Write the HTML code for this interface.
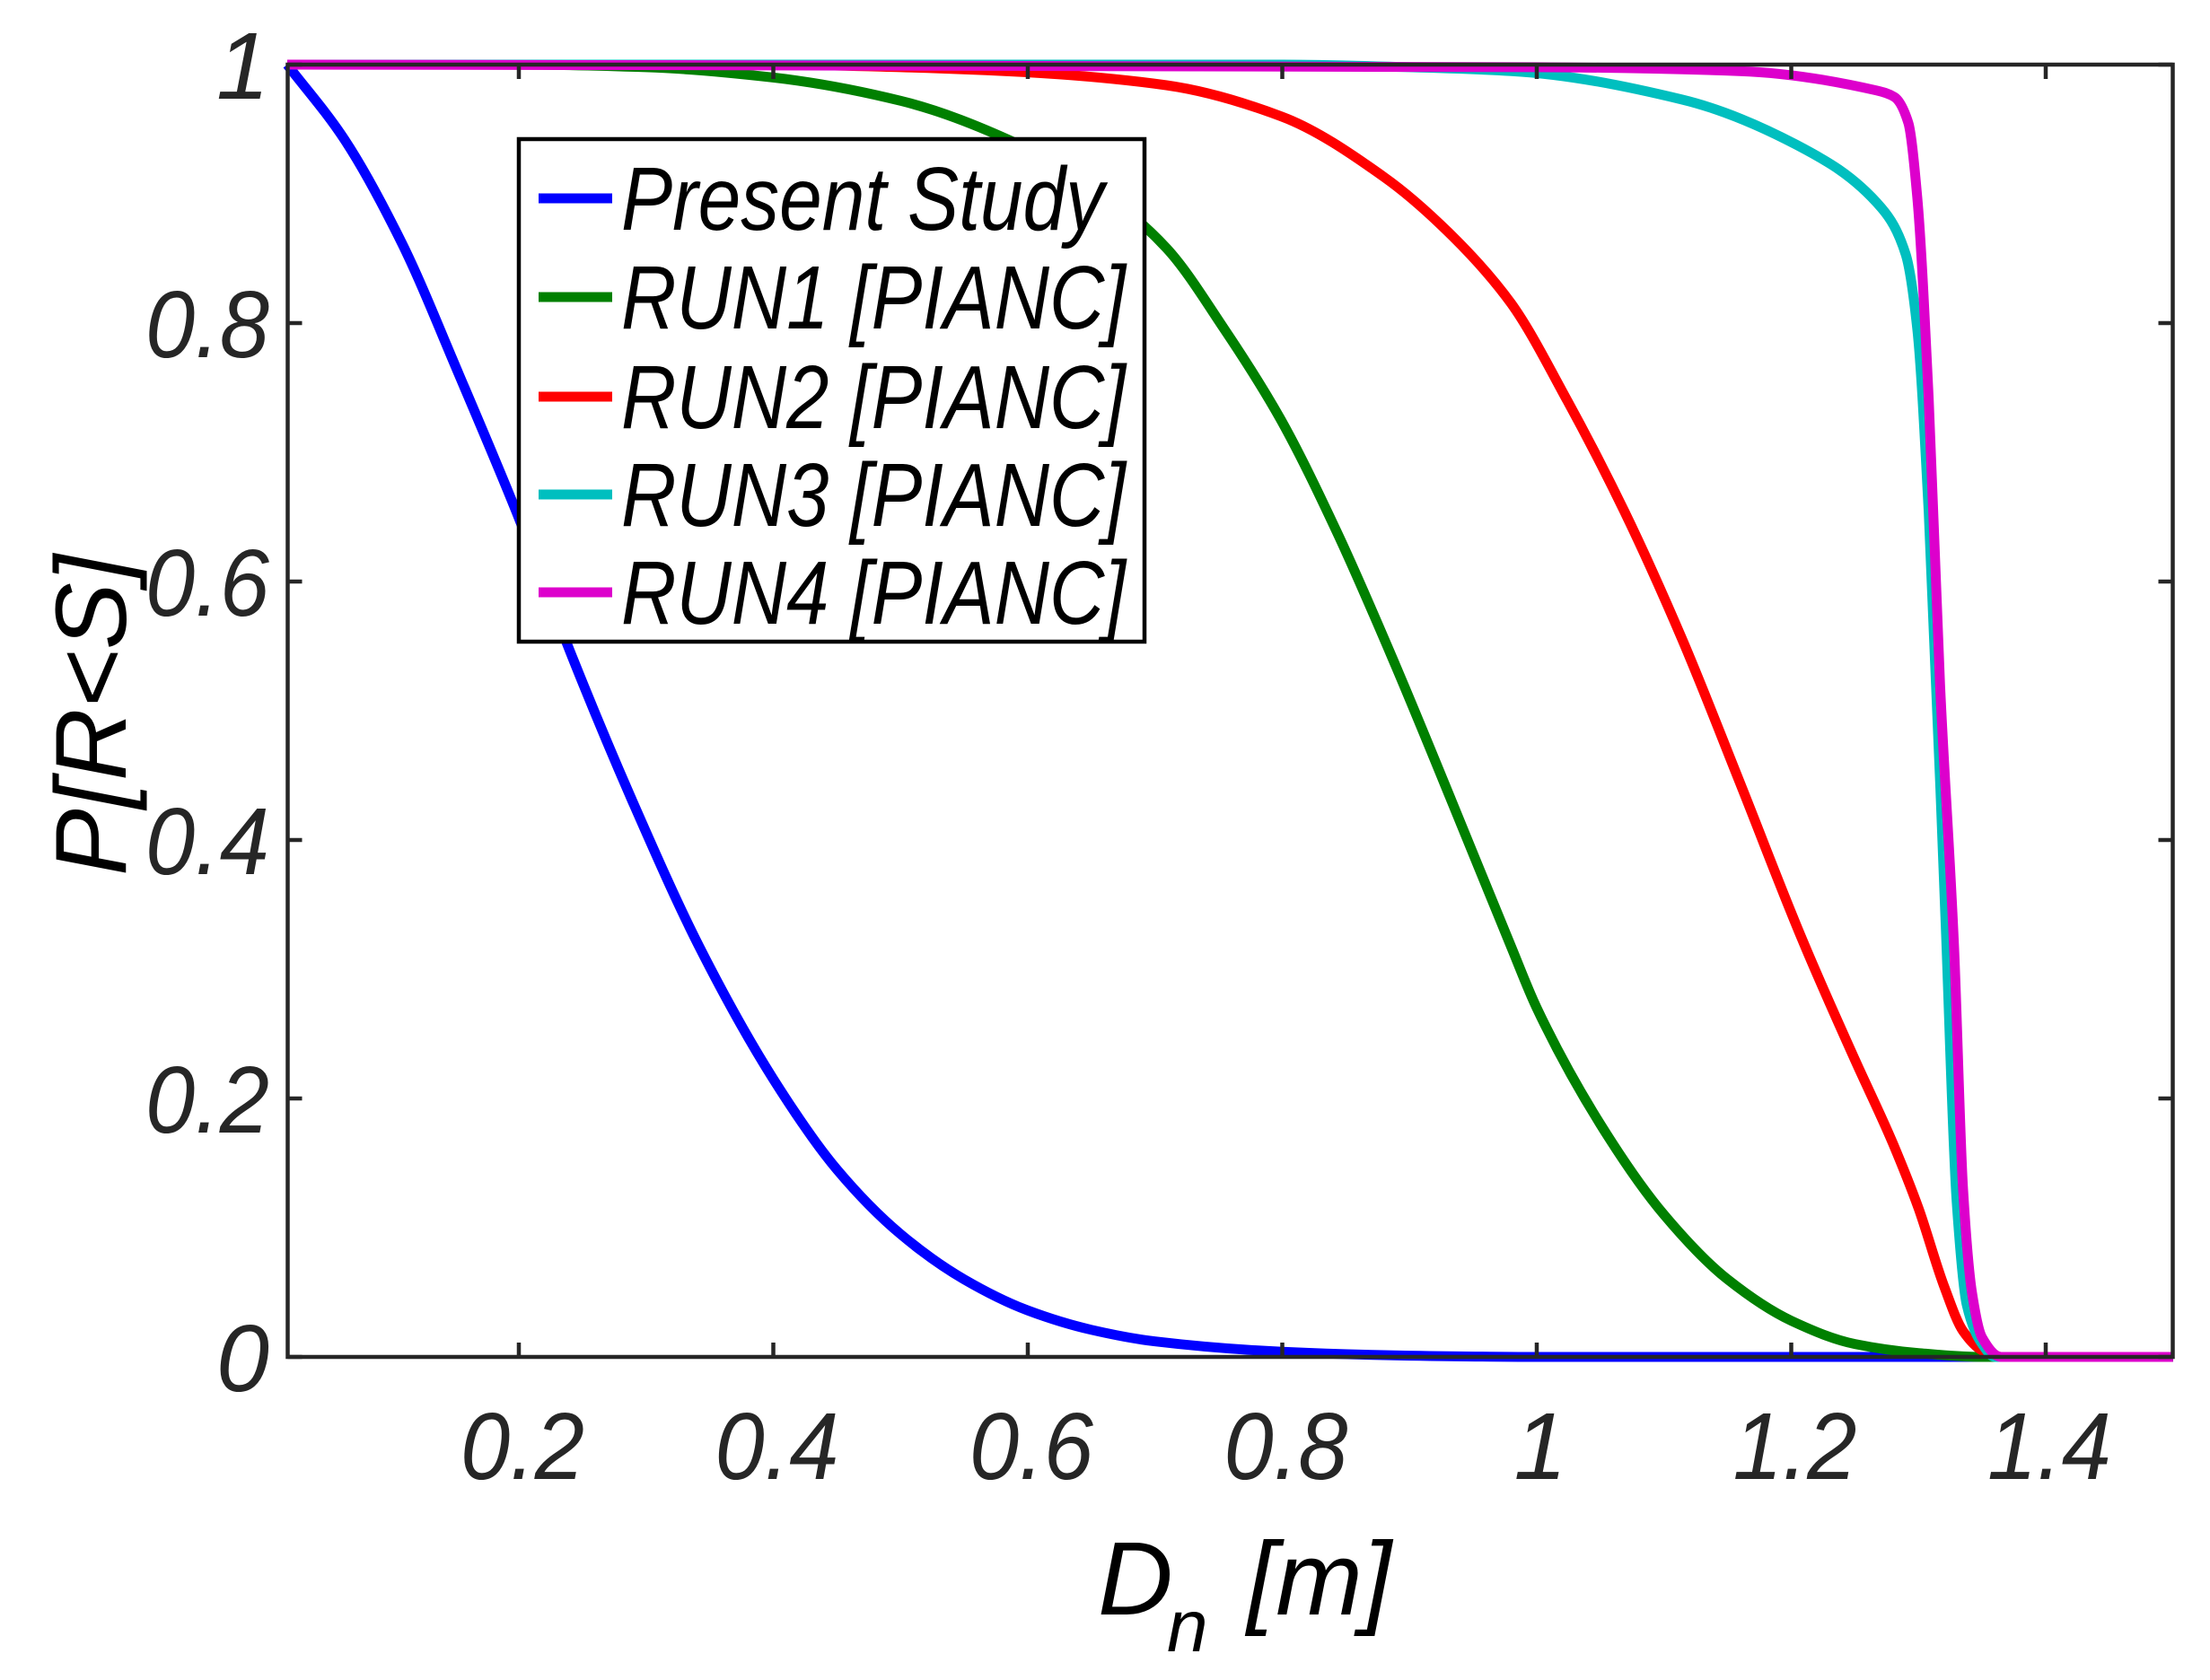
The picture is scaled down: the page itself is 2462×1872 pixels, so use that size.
<!DOCTYPE html>
<html><head><meta charset="utf-8"><style>html,body{margin:0;padding:0;background:#fff}svg{display:block}text{font-family:"Liberation Sans",sans-serif;font-style:italic}</style></head>
<body>
<svg id="s" width="2462" height="1872" viewBox="0 0 2462 1872" xmlns="http://www.w3.org/2000/svg">
<rect width="2462" height="1872" fill="#fff"/>
<g id="curves" fill="none" stroke-width="11" stroke-linejoin="round" stroke-linecap="butt"></g>
<g stroke="#262626" stroke-width="4.5" fill="none">
<rect x="320.5" y="72" width="2100" height="1440"/>
<path id="ticks" d=""/>
</g>
<g fill="#262626" font-size="106" id="labels"></g>
<text x="1223" y="1799" font-size="116" fill="#000">D</text>
<text x="1300" y="1840" font-size="82" fill="#000">n</text>
<text x="1389" y="1799" font-size="116" fill="#000">[m]</text>
<text transform="translate(140,797) rotate(-90)" text-anchor="middle" font-size="112" fill="#000">P[R&lt;S]</text>
<g>
<rect x="578" y="155" width="697" height="560" fill="#fff" stroke="#000" stroke-width="4.5"/>
<g stroke-width="11">
<line x1="600" x2="682" y1="221" y2="221" stroke="#0000ff"/>
<line x1="600" x2="682" y1="331" y2="331" stroke="#008000"/>
<line x1="600" x2="682" y1="442" y2="442" stroke="#ff0000"/>
<line x1="600" x2="682" y1="551" y2="551" stroke="#00bfbf"/>
<line x1="600" x2="682" y1="660" y2="660" stroke="#dd00cc"/>
</g>
<g font-size="100" fill="#000">
<text x="692" y="256" textLength="538" lengthAdjust="spacingAndGlyphs">Present Study</text>
<text x="692" y="366" textLength="562" lengthAdjust="spacingAndGlyphs">RUN1 [PIANC]</text>
<text x="692" y="477" textLength="562" lengthAdjust="spacingAndGlyphs">RUN2 [PIANC]</text>
<text x="692" y="586" textLength="562" lengthAdjust="spacingAndGlyphs">RUN3 [PIANC]</text>
<text x="692" y="695" textLength="562" lengthAdjust="spacingAndGlyphs">RUN4 [PIANC]</text>
</g>
</g>
</svg>
<script>
(function(){
var NS="http://www.w3.org/2000/svg";
function X(v){return 578+(v-0.2)*1417.5;}
function Y(p){return 1512-p*1440;}
var series=[
["#0000ff",[[0.018,1],[0.063,0.942],[0.108,0.862],[0.153,0.76],[0.198,0.654],[0.243,0.539],[0.288,0.433],[0.342,0.317],[0.4,0.215],[0.45,0.145],[0.5,0.095],[0.55,0.06],[0.6,0.036],[0.65,0.021],[0.7,0.012],[0.8,0.004],[0.9,0.001],[1.0,0],[1.5,0]]],
["#008000",[[0.018,1],[0.2,1],[0.3,0.998],[0.4,0.99],[0.5,0.972],[0.6,0.935],[0.66,0.9],[0.709,0.858],[0.754,0.796],[0.799,0.725],[0.844,0.636],[0.889,0.535],[0.934,0.428],[0.98,0.317],[1.0,0.27],[1.05,0.18],[1.1,0.11],[1.15,0.06],[1.2,0.028],[1.25,0.01],[1.3,0.003],[1.35,0],[1.5,0]]],
["#ff0000",[[0.018,1],[0.4,1],[0.5,0.998],[0.6,0.994],[0.709,0.984],[0.799,0.96],[0.88,0.913],[0.934,0.867],[0.98,0.815],[1.024,0.74],[1.069,0.654],[1.114,0.556],[1.159,0.446],[1.209,0.322],[1.25,0.23],[1.28,0.165],[1.3,0.115],[1.32,0.055],[1.335,0.02],[1.35,0.005],[1.365,0],[1.5,0]]],
["#00bfbf",[[0.018,1],[0.8,1],[0.9,0.998],[0.98,0.995],[1.114,0.973],[1.204,0.938],[1.271,0.889],[1.29,0.853],[1.299,0.796],[1.308,0.654],[1.321,0.344],[1.33,0.12],[1.338,0.04],[1.35,0.01],[1.36,0],[1.5,0]]],
["#dd00cc",[[0.018,1],[1.0,0.998],[1.159,0.995],[1.267,0.98],[1.281,0.975],[1.292,0.955],[1.299,0.898],[1.308,0.742],[1.317,0.52],[1.328,0.317],[1.335,0.13],[1.342,0.05],[1.35,0.015],[1.365,0],[1.5,0]]]
];
var g=document.getElementById("curves");
function mono(pts){
 var n=pts.length,xs=pts.map(p=>p[0]),ys=pts.map(p=>p[1]),d=[],m=[];
 for(var i=0;i<n-1;i++)d.push((ys[i+1]-ys[i])/(xs[i+1]-xs[i]));
 m[0]=d[0];m[n-1]=d[n-2];
 for(var i=1;i<n-1;i++){ if(d[i-1]*d[i]<=0)m[i]=0; else { var w1=2*(xs[i+1]-xs[i])+(xs[i]-xs[i-1]),w2=(xs[i+1]-xs[i])+2*(xs[i]-xs[i-1]); m[i]=(w1+w2)/(w1/d[i-1]+w2/d[i]); } }
 var s="M"+xs[0].toFixed(1)+","+ys[0].toFixed(1);
 for(var i=0;i<n-1;i++){var h=xs[i+1]-xs[i];
  s+=" C"+(xs[i]+h/3).toFixed(1)+","+(ys[i]+m[i]*h/3).toFixed(1)+" "+(xs[i+1]-h/3).toFixed(1)+","+(ys[i+1]-m[i+1]*h/3).toFixed(1)+" "+xs[i+1].toFixed(1)+","+ys[i+1].toFixed(1);}
 return s;
}
series.forEach(function(s){
 var pts=s[1].map(function(p){return [X(p[0]),Y(p[1])];});
 var path=document.createElementNS(NS,"path");
 path.setAttribute("d",mono(pts));path.setAttribute("stroke",s[0]);
 g.appendChild(path);
});
var td="";
var L=document.getElementById("labels");
[0.2,0.4,0.6,0.8,1.0,1.2,1.4].forEach(function(v){
 var x=X(v);td+="M"+x+",1512 v-16 M"+x+",72 v16 ";
 var t=document.createElementNS(NS,"text");
 t.setAttribute("x",x+4);t.setAttribute("y",1648);t.setAttribute("text-anchor","middle");
 var s=(Math.round(v*10)/10).toString();t.textContent=s;
 if(s.length>1){t.setAttribute("textLength",138);t.setAttribute("lengthAdjust","spacingAndGlyphs");}
 L.appendChild(t);
});
[0,0.2,0.4,0.6,0.8,1].forEach(function(p){
 var y=Y(p);td+="M320.5,"+y+" h16 M2420.5,"+y+" h-16 ";
 var t=document.createElementNS(NS,"text");
 t.setAttribute("x",300);t.setAttribute("y",y+38);t.setAttribute("text-anchor","end");
 var s=(Math.round(p*10)/10).toString();t.textContent=s;
 if(s.length>1){t.setAttribute("textLength",138);t.setAttribute("lengthAdjust","spacingAndGlyphs");}
 L.appendChild(t);
});
document.getElementById("ticks").setAttribute("d",td);
})();
</script>
</body></html>
